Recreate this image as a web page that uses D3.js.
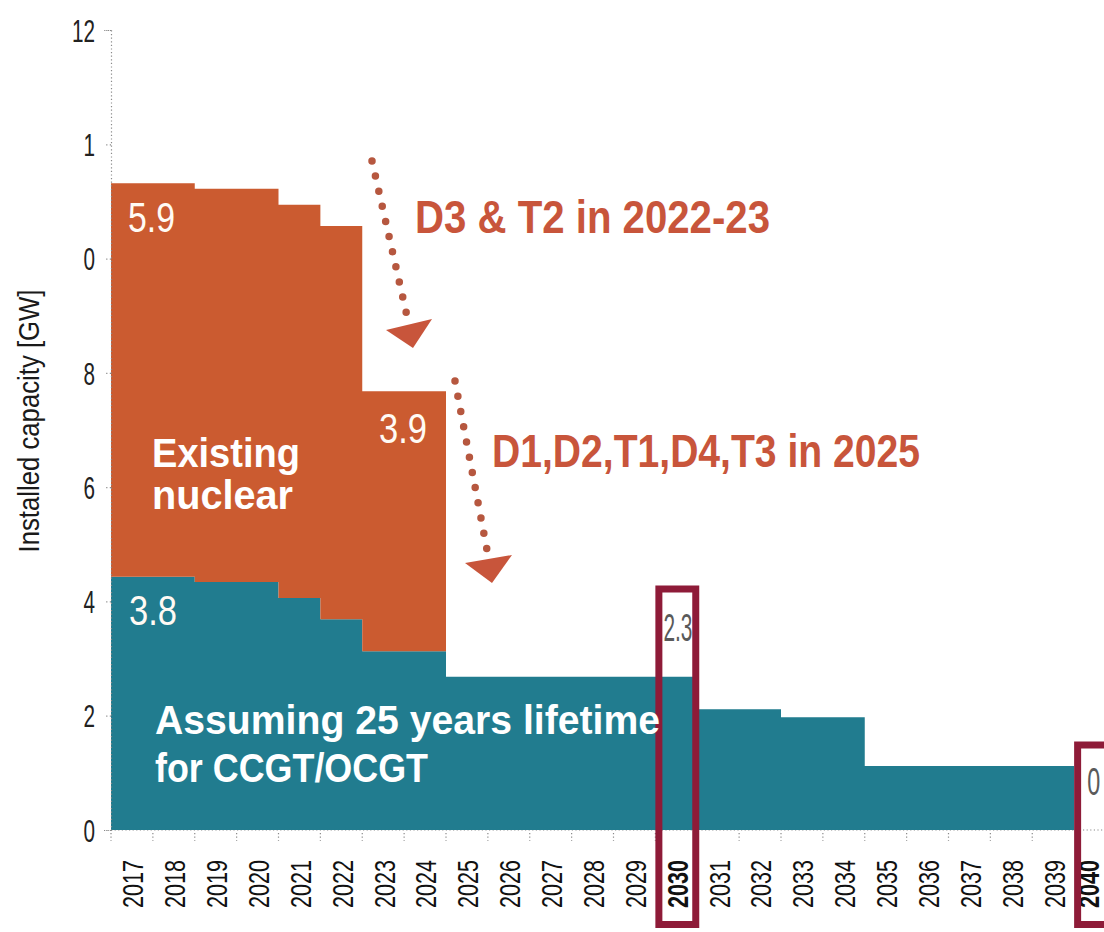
<!DOCTYPE html>
<html>
<head>
<meta charset="utf-8">
<script src="https://cdn.jsdelivr.net/npm/d3@7/dist/d3.min.js"></script>
<style>
  html, body { margin: 0; padding: 0; background: #ffffff; }
  svg { display: block; }
</style>
</head>
<body>
<svg id="chart" width="1104" height="932"></svg>
<script>
// ---- data -------------------------------------------------------------
const years = [2017, 2018, 2019, 2020, 2021, 2022, 2023, 2024, 2025, 2026, 2027, 2028,
               2029, 2030, 2031, 2032, 2033, 2034, 2035, 2036, 2037, 2038, 2039, 2040];
const yearLabels = ["2017", "2018", "2019", "2020", "2021", "2022", "2023", "2024", "2025", "2026",
                    "2027", "2028", "2029", "2030", "2031", "2032", "2033", "2034", "2035", "2036",
                    "2037", "2038", "2039", "2040"];
// CCGT/OCGT capacity (GW), 2017 .. 2039
const gasCapacity = [3.8, 3.8, 3.72, 3.72, 3.48, 3.16, 2.68, 2.68, 2.3, 2.3, 2.3, 2.3,
                     2.3, 2.3, 1.81, 1.81, 1.69, 1.69, 0.96, 0.96, 0.96, 0.96, 0.96];
// Existing nuclear capacity (GW), 2017 .. 2024
const nuclearCapacity = [5.9, 5.9, 5.9, 5.9, 5.9, 5.9, 3.9, 3.9];
// y-axis tick labels as printed on the axis
const yTickLabels = ["0", "2", "4", "6", "8", "0", "1", "12"];
const yMax = 12;
// highlighted years and the text printed beside them
const highlightYears = [2030, 2040];
const highlightValueLabels = ["2.3", "0"];

// ---- layout -----------------------------------------------------------
const W = 1104, H = 932;
const plot = { left: 111, top: 30, bottom: 830 };
const bandW = 41.875;

const svg = d3.select("#chart");
const x = d3.scaleLinear()
  .domain([years[0], years[years.length - 1] + 1])
  .range([plot.left, plot.left + bandW * years.length]);
const y = d3.scaleLinear().domain([0, yMax]).range([plot.bottom, plot.top]);

const colors = {
  nuclear: "#CB5B30",
  gas: "#217C8F",
  note: "#C8553B",
  arrow: "#B6573F",
  box: "#8E1B38",
  axis: "#8a8a8a"
};
const sans = "'Liberation Sans', Arial, Helvetica, sans-serif";

// squeeze a text element to a given rendered width (condensed look)
function fit(sel, w) {
  sel.attr("textLength", w).attr("lengthAdjust", "spacingAndGlyphs");
  return sel;
}

// ---- baseline (dotted, sits under the areas) --------------------------
svg.append("line")
  .attr("x1", plot.left).attr("x2", W)
  .attr("y1", y(0)).attr("y2", y(0))
  .attr("stroke", colors.axis).attr("stroke-width", 1.2)
  .attr("stroke-dasharray", "1.2 2.4");

// ---- stacked step areas -----------------------------------------------
const gasPts = gasCapacity.map((v, i) => ({ year: years[i], y0: 0, y1: v }));
gasPts.push({ year: years[gasCapacity.length], y0: 0, y1: gasCapacity[gasCapacity.length - 1] });

const nucPts = nuclearCapacity.map((v, i) => ({ year: years[i], y0: gasCapacity[i], y1: gasCapacity[i] + v }));
const lastN = nuclearCapacity.length - 1;
nucPts.push({ year: years[nuclearCapacity.length], y0: gasCapacity[lastN], y1: gasCapacity[lastN] + nuclearCapacity[lastN] });

const area = d3.area()
  .curve(d3.curveStepAfter)
  .x(d => x(d.year))
  .y0(d => y(d.y0))
  .y1(d => y(d.y1));

svg.append("path").datum(gasPts).attr("d", area).attr("fill", colors.gas);
svg.append("path").datum(nucPts).attr("d", area).attr("fill", colors.nuclear);

// ---- y axis -----------------------------------------------------------
const yTicks = yTickLabels.map((_, i) => i * yMax / (yTickLabels.length - 1));
const yAxis = svg.append("g")
  .attr("transform", `translate(${plot.left},0)`)
  .call(d3.axisLeft(y).tickValues(yTicks).tickFormat((d, i) => yTickLabels[i]).tickSize(7).tickPadding(9));
yAxis.select(".domain")
  .attr("stroke", colors.axis).attr("stroke-width", 1.2).attr("stroke-dasharray", "1.2 2.4");
yAxis.selectAll(".tick line")
  .attr("stroke", colors.axis).attr("stroke-width", 1.2).attr("stroke-dasharray", "1.2 2.4");
yAxis.selectAll(".tick text")
  .attr("fill", "#222").attr("font-family", sans).attr("font-size", 31)
  .attr("dy", "0.36em")
  .each(function () { fit(d3.select(this), this.textContent.length * 11.5); });

svg.append("text")
  .attr("transform", `translate(39,421) rotate(-90)`)
  .attr("text-anchor", "middle")
  .attr("font-family", sans).attr("font-size", 29).attr("fill", "#1a1a1a")
  .text("Installed capacity [GW]")
  .call(fit, 263);

// ---- x axis -----------------------------------------------------------
const tickG = svg.append("g");
tickG.selectAll("line").data(years.slice(0, -1)).join("line")
  .attr("x1", d => x(d)).attr("x2", d => x(d))
  .attr("y1", y(0) + 3).attr("y2", y(0) + 11)
  .attr("stroke", colors.axis).attr("stroke-width", 1.2).attr("stroke-dasharray", "1.2 2.4");

const xAxis = svg.append("g")
  .attr("transform", `translate(0,${y(0)})`)
  .call(d3.axisBottom(x).tickValues(years.map(d => d + 0.5)).tickFormat((d, i) => yearLabels[i]).tickSize(0));
xAxis.select(".domain").remove();
xAxis.selectAll(".tick text")
  .attr("transform", (d, i) => `translate(${i === years.length - 1 ? -7 : 0},78) rotate(-90)`)
  .attr("text-anchor", "start")
  .attr("x", 0).attr("y", 0).attr("dy", "0.36em")
  .attr("fill", "#111").attr("font-family", sans).attr("font-size", 30)
  .attr("font-weight", (d, i) => highlightYears.includes(years[i]) ? "bold" : null)
  .call(fit, 48);

// ---- highlight boxes ----------------------------------------------------
highlightYears.forEach((yr, i) => {
  const top = i === 0 ? 589 : 745;
  svg.append("rect")
    .attr("x", x(yr) + 3.5).attr("y", top)
    .attr("width", bandW - 5).attr("height", 924.5 - top)
    .attr("fill", "none").attr("stroke", colors.box).attr("stroke-width", 7);
  const t = svg.append("text")
    .attr("x", x(yr) + (i === 0 ? 8 : 13)).attr("y", i === 0 ? 641 : 795)
    .attr("font-family", sans).attr("font-size", 38).attr("fill", "#5a5a5a")
    .text(highlightValueLabels[i]);
  fit(t, i === 0 ? 29 : 13);
});

// ---- value labels inside the areas -------------------------------------
const fmt = d3.format(".1f");
const valueLabels = [
  { text: fmt(nuclearCapacity[0]), x: 128, y: 232, w: 47 },
  { text: fmt(gasCapacity[0]), x: 129, y: 625, w: 48 },
  { text: fmt(nuclearCapacity[6]), x: 379, y: 443, w: 48 }
];
svg.selectAll(".vlabel").data(valueLabels).join("text")
  .attr("class", "vlabel")
  .attr("x", d => d.x).attr("y", d => d.y)
  .attr("font-family", sans).attr("font-size", 43).attr("fill", "#fffaf4")
  .text(d => d.text)
  .each(function (d) { fit(d3.select(this), d.w); });

// ---- series names --------------------------------------------------------
const names = [
  { text: "Existing", x: 152, y: 467, w: 148 },
  { text: "nuclear", x: 152, y: 509, w: 141 },
  { text: "Assuming 25 years lifetime", x: 155, y: 734, w: 505 },
  { text: "for CCGT/OCGT", x: 155, y: 782, w: 273 }
];
svg.selectAll(".sname").data(names).join("text")
  .attr("class", "sname")
  .attr("x", d => d.x).attr("y", d => d.y)
  .attr("font-family", sans).attr("font-weight", "bold").attr("font-size", 41).attr("fill", "#ffffff")
  .text(d => d.text)
  .each(function (d) { fit(d3.select(this), d.w); });

// ---- retirement annotations ---------------------------------------------
const notes = [
  { text: "D3 & T2 in 2022-23", x: 415, y: 233, w: 355,
    line: [[372, 161], [407, 316]], head: [[386, 330], [432, 319], [413, 348]] },
  { text: "D1,D2,T1,D4,T3 in 2025", x: 492, y: 467, w: 428,
    line: [[455, 381], [487, 550]], head: [[465, 563], [512, 555], [492, 583]] }
];
notes.forEach(n => {
  svg.append("path")
    .attr("d", d3.line()(n.line))
    .attr("stroke", colors.arrow).attr("stroke-width", 7.5)
    .attr("stroke-linecap", "round").attr("stroke-dasharray", "0 15.5")
    .attr("fill", "none");
  svg.append("path")
    .attr("d", d3.line()(n.head) + "Z")
    .attr("fill", colors.note);
  svg.append("text")
    .attr("x", n.x).attr("y", n.y)
    .attr("font-family", sans).attr("font-weight", "bold").attr("font-size", 46)
    .attr("fill", colors.note)
    .text(n.text)
    .call(fit, n.w);
});
</script>
</body>
</html>
